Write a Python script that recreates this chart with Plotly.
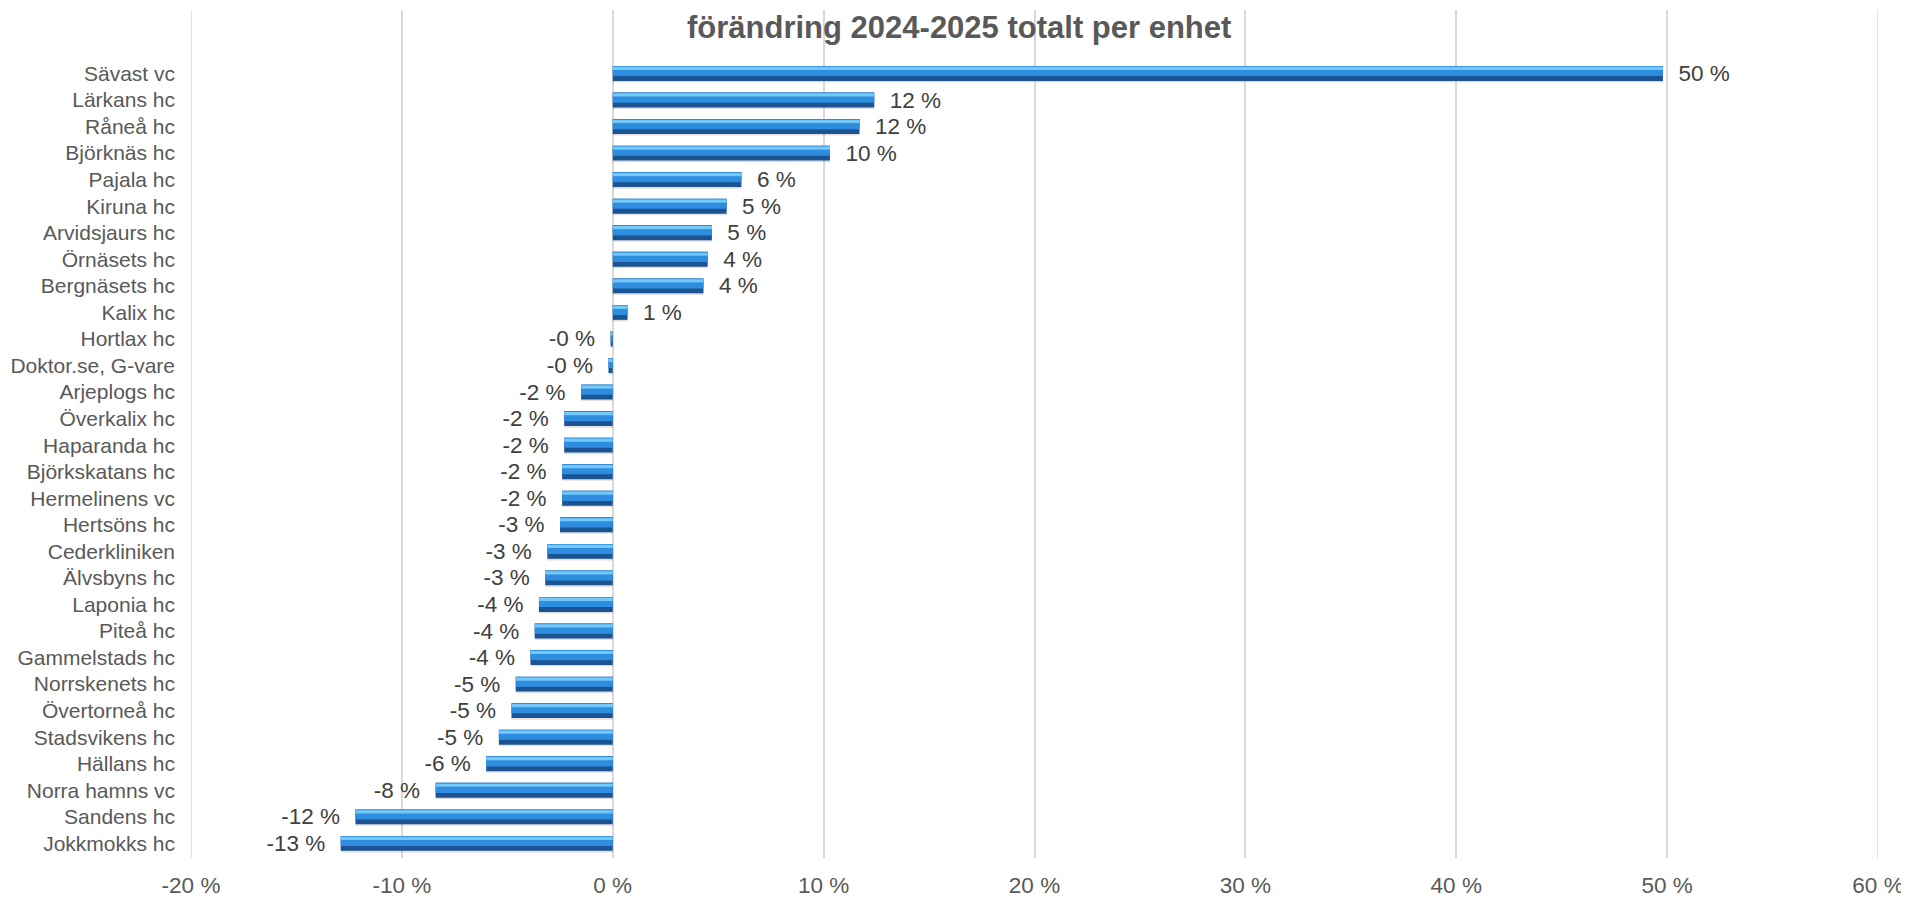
import plotly.graph_objects as go

categories = ["Sävast vc", "Lärkans hc", "Råneå hc", "Björknäs hc", "Pajala hc", "Kiruna hc",
              "Arvidsjaurs hc", "Örnäsets hc", "Bergnäsets hc", "Kalix hc", "Hortlax hc",
              "Doktor.se, G-vare", "Arjeplogs hc", "Överkalix hc", "Haparanda hc",
              "Björkskatans hc", "Hermelinens vc", "Hertsöns hc", "Cederkliniken", "Älvsbyns hc",
              "Laponia hc", "Piteå hc", "Gammelstads hc", "Norrskenets hc", "Övertorneå hc",
              "Stadsvikens hc", "Hällans hc", "Norra hamns vc", "Sandens hc", "Jokkmokks hc"]
values = [49.8, 12.4, 11.7, 10.3, 6.1, 5.4, 4.7, 4.5, 4.3, 0.7, -0.1, -0.2, -1.5, -2.3, -2.3,
          -2.4, -2.4, -2.5, -3.1, -3.2, -3.5, -3.7, -3.9, -4.6, -4.8, -5.4, -6.0, -8.4, -12.2, -12.9]
label_values = [50, 12, 12, 10, 6, 5, 5, 4, 4, 1, -0, -0, -2, -2, -2, -2, -2, -3, -3, -3,
                -4, -4, -4, -5, -5, -5, -6, -8, -12, -13]
tick_vals = [-20, -10, 0, 10, 20, 30, 40, 50, 60]
tick_text = ["-20 %", "-10 %", "0 %", "10 %", "20 %", "30 %", "40 %", "50 %", "60 %"]
title_text = "förändring 2024-2025 totalt per enhet"

pad = "\u00a0\u00a0"
labels = []
for v, lv in zip(values, label_values):
    s = ("-" if v < 0 else "") + f"{abs(lv)} %"
    labels.append(pad + s if v >= 0 else s + pad)

# page body has an 8px margin: plot area in figure coordinates
OFF = 8
L, R, T, B = 191 - OFF, 1909 - (1878 - OFF), 10 - OFF, 897 - (858 - OFF)

FONT = "Liberation Sans, Arial, sans-serif"
fig = go.Figure()
# shadow
fig.add_trace(go.Bar(y=categories, x=values, orientation="h", width=0.58, offset=-0.24,
                     marker=dict(color="rgba(0,0,0,0.12)", line=dict(width=0)),
                     hoverinfo="skip", showlegend=False))
# dark base with labels
fig.add_trace(go.Bar(y=categories, x=values, orientation="h", width=0.56, offset=-0.28,
                     marker=dict(color="#1b5393", line=dict(width=0)),
                     text=labels, textposition="outside", cliponaxis=False,
                     constraintext="none",
                     textfont=dict(family=FONT, size=22.5, color="#404040"),
                     showlegend=False))
# mid band
fig.add_trace(go.Bar(y=categories, x=values, orientation="h", width=0.38, offset=-0.28,
                     marker=dict(color="#2f8de0", line=dict(width=0)),
                     hoverinfo="skip", showlegend=False))
# light top strip
fig.add_trace(go.Bar(y=categories, x=values, orientation="h", width=0.12, offset=-0.25,
                     marker=dict(color="#72c8f8", line=dict(width=0)),
                     hoverinfo="skip", showlegend=False))

# edge gridlines (Plotly omits gridlines at the range edges)
for xv in (tick_vals[0], tick_vals[-1]):
    fig.add_shape(type="line", xref="x", yref="paper", x0=xv, x1=xv, y0=0, y1=1,
                  line=dict(color="#d9d9d9", width=1.5), layer="below")

fig.add_annotation(text="<b>" + title_text + "</b>", xref="paper", yref="paper",
                   x=(959 - OFF - L) / (1909 - L - R), y=1, xanchor="center", yanchor="middle",
                   yshift=-17, showarrow=False,
                   font=dict(family=FONT, size=31, color="#595959"))

fig.update_layout(
    barmode="overlay",
    width=1909, height=897,
    margin=dict(l=L, r=R, t=T, b=B, autoexpand=False),
    plot_bgcolor="white", paper_bgcolor="white",
    font=dict(family=FONT, color="#404040"),
    xaxis=dict(range=[tick_vals[0], tick_vals[-1]], tickvals=tick_vals, ticktext=tick_text,
               showgrid=True, gridcolor="#d9d9d9", gridwidth=1.5, zeroline=False,
               showline=False, ticks="", ticklabelstandoff=11, automargin=False,
               tickfont=dict(family=FONT, size=22.5, color="#595959")),
    yaxis=dict(categoryorder="array", categoryarray=categories, range=[29.55, -2.39],
               showgrid=False, zeroline=False, showline=False, ticks="", ticklabelstandoff=15,
               automargin=False,
               tickfont=dict(family=FONT, size=21, color="#595959")),
)
fig.write_html("out.html")
